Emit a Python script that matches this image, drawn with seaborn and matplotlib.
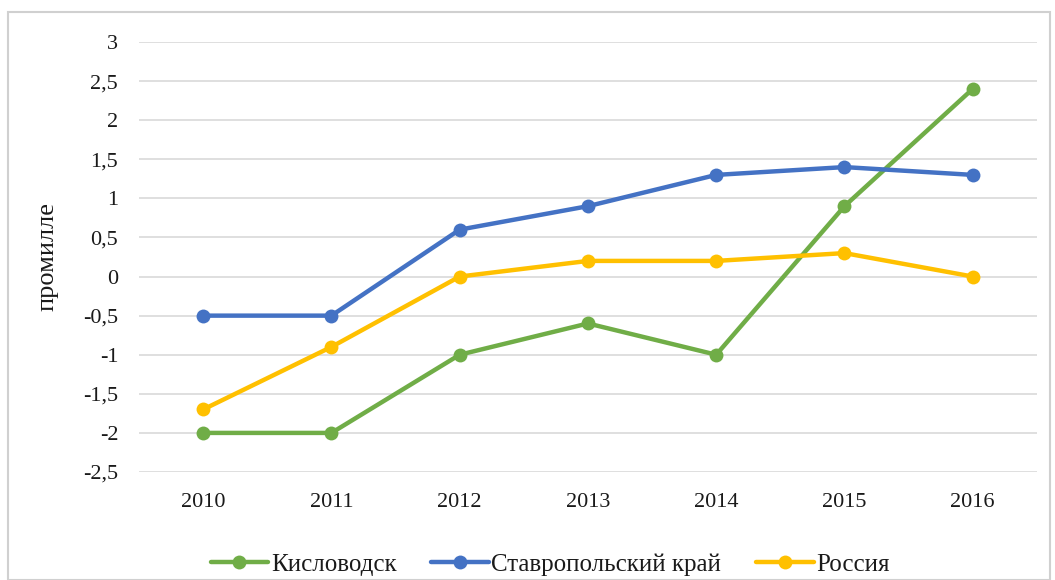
import pandas as pd
import matplotlib.pyplot as plt
import seaborn as sns
from matplotlib.ticker import FuncFormatter
from matplotlib.patches import Rectangle

years = ["2010", "2011", "2012", "2013", "2014", "2015", "2016"]
kislovodsk = [-2, -2, -1, -0.6, -1, 0.9, 2.4]
stavropol = [-0.5, -0.5, 0.6, 0.9, 1.3, 1.4, 1.3]
russia = [-1.7, -0.9, 0, 0.2, 0.2, 0.3, 0]
names = ["Кисловодск", "Ставропольский край", "Россия"]
colors = ["#70AD47", "#4472C4", "#FFC000"]

rows = []
for name, vals in zip(names, [kislovodsk, stavropol, russia]):
    for i, v in enumerate(vals):
        rows.append({"x": i, "value": v, "series": name})
df = pd.DataFrame(rows)

sns.set_style("white")
plt.rcParams['font.family'] = ['Liberation Serif', 'DejaVu Serif']

fig = plt.figure(figsize=(10.55, 5.8), dpi=100)
ax = fig.add_axes([0.1318, 0.1862, 0.851, 0.7414])

sns.lineplot(data=df, x="x", y="value", hue="series", hue_order=names,
             palette=colors, marker="o", markersize=10, markeredgewidth=0,
             linewidth=3.2, ax=ax, zorder=3)

ax.set_xlim(-0.5, 6.5)
ax.set_ylim(-2.5, 3)
ax.set_yticks([-2.5 + 0.5 * i for i in range(12)])
ax.yaxis.set_major_formatter(FuncFormatter(lambda v, p: f"{v:g}".replace(".", ",")))
ax.set_xticks(range(len(years)))
ax.set_xticklabels(years)
ax.grid(axis="y", color="#D9D9D9", linewidth=1.2)
ax.set_axisbelow(True)
for s in ax.spines.values():
    s.set_visible(False)
ax.tick_params(axis="both", length=0, labelsize=16, colors="#1a1a1a")
ax.tick_params(axis="y", pad=15)
ax.tick_params(axis="x", pad=15)
ax.set_xlabel("")
ax.set_ylabel("промилле", fontsize=19, color="#1a1a1a")
ax.yaxis.set_label_coords(-0.09, 0.5)

handles, labels = ax.get_legend_handles_labels()
ax.legend(handles, labels, loc="center", bbox_to_anchor=(0.458, -0.215), ncol=3,
          frameon=False, fontsize=18, handlelength=2.3, columnspacing=1.4,
          handletextpad=0.1, labelcolor="#1a1a1a")

fig.patches.append(Rectangle((8 / 1055, 0), 1042 / 1055, 1 - 12 / 580,
                             transform=fig.transFigure, fill=False,
                             edgecolor="#D0D0D0", linewidth=1.5))

plt.savefig("out.png", dpi=100)
